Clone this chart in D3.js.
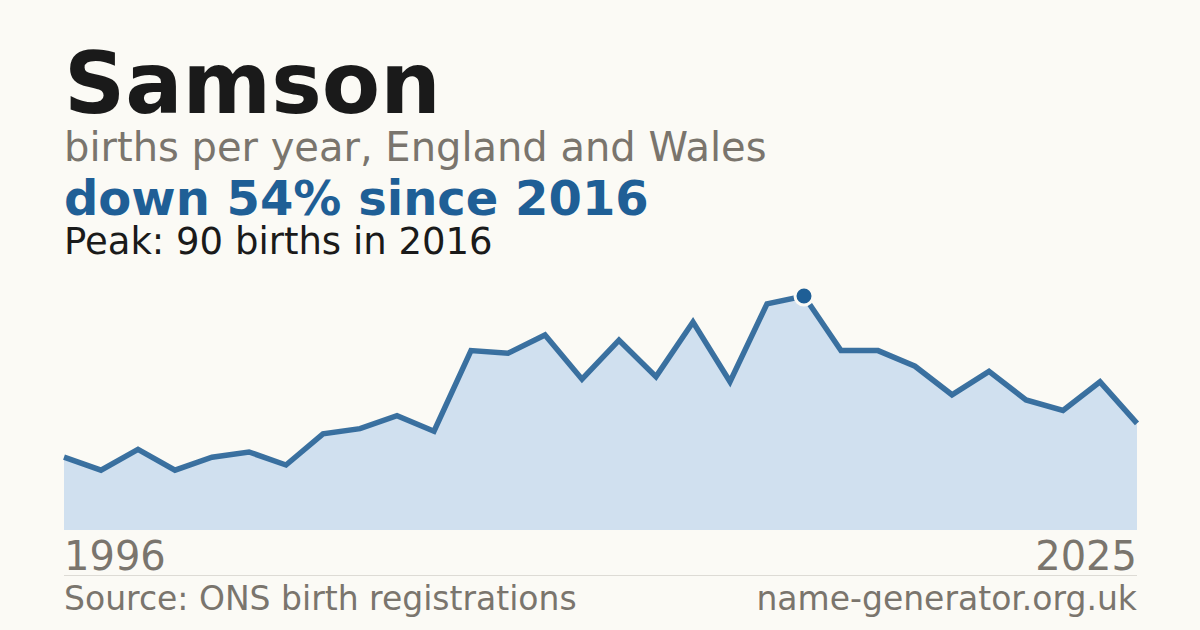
<!DOCTYPE html>
<html>
<head>
<meta charset="utf-8">
<script src="https://cdn.jsdelivr.net/npm/d3@7"></script>
<style>
  html, body { margin: 0; padding: 0; background: #fbfaf5; }
  svg { display: block; font-family: "DejaVu Sans", sans-serif; }
</style>
</head>
<body>
<div id="chart"></div>
<script>
const years = d3.range(1996, 2026)
const births = [28, 23, 31, 23, 28, 30, 25, 37, 39, 44, 38, 69, 68, 75, 58, 73, 59, 80, 57, 87,
  90, 69, 69, 63, 52, 61, 50, 46, 57, 41]
const peakYear = 2016

const width = 1200
const height = 630
const margin = {left: 64, right: 63, top: 296, bottom: 100}

const svg = d3.select("#chart")
  .append("svg")
  .attr("width", width)
  .attr("height", height)

svg.append("rect")
  .attr("width", width)
  .attr("height", height)
  .attr("fill", "#fbfaf5")

const data = years.map((year, i) => ({year, value: births[i]}))

const x = d3.scaleLinear()
  .domain(d3.extent(years))
  .range([margin.left, width - margin.right])

const y = d3.scaleLinear()
  .domain([0, d3.max(births)])
  .range([height - margin.bottom, margin.top])

svg.append("path")
  .datum(data)
  .attr("fill", "#d0e0ef")
  .attr("d", d3.area()
    .x(d => x(d.year))
    .y0(y(0))
    .y1(d => y(d.value)))

svg.append("path")
  .datum(data)
  .attr("fill", "none")
  .attr("stroke", "#2a6598")
  .attr("stroke-opacity", 0.92)
  .attr("stroke-width", 5.5)
  .attr("stroke-linejoin", "miter")
  .attr("d", d3.line()
    .x(d => x(d.year))
    .y(d => y(d.value)))

const peak = data.find(d => d.year === peakYear)
svg.append("circle")
  .attr("cx", x(peak.year))
  .attr("cy", y(peak.value))
  .attr("r", 9)
  .attr("fill", "#1f5f96")
  .attr("stroke", "#fbfaf5")
  .attr("stroke-width", 3)

// titles
svg.append("text")
  .attr("x", 64).attr("y", 113)
  .attr("fill", "#1a1a1a")
  .style("font-size", "85px")
  .style("font-weight", "bold")
  .text("Samson")

svg.append("text")
  .attr("x", 64).attr("y", 161)
  .attr("fill", "#7a756d")
  .style("font-size", "40px")
  .text("births per year, England and Wales")

const last = data[data.length - 1]
const change = Math.round((1 - last.value / peak.value) * 100)
svg.append("text")
  .attr("x", 64).attr("y", 215)
  .attr("fill", "#1f5f96")
  .style("font-size", "48px")
  .style("font-weight", "bold")
  .text(`down ${change}% since ${peakYear}`)

svg.append("text")
  .attr("x", 64).attr("y", 254)
  .attr("fill", "#1a1a1a")
  .style("font-size", "37px")
  .text(`Peak: ${peak.value} births in ${peakYear}`)

// year labels
svg.append("text")
  .attr("x", x(years[0])).attr("y", 570)
  .attr("fill", "#7a756d")
  .style("font-size", "40px")
  .text(years[0])

svg.append("text")
  .attr("x", x(years[years.length - 1])).attr("y", 570)
  .attr("text-anchor", "end")
  .attr("fill", "#7a756d")
  .style("font-size", "40px")
  .text(years[years.length - 1])

svg.append("line")
  .attr("x1", 64).attr("x2", width - margin.right)
  .attr("y1", 575.5).attr("y2", 575.5)
  .attr("stroke", "#dddbd5")
  .attr("stroke-width", 1)

svg.append("text")
  .attr("x", 64).attr("y", 610)
  .attr("fill", "#7a756d")
  .style("font-size", "33px")
  .text("Source: ONS birth registrations")

svg.append("text")
  .attr("x", width - margin.right).attr("y", 610)
  .attr("text-anchor", "end")
  .attr("fill", "#7a756d")
  .style("font-size", "33px")
  .text("name-generator.org.uk")
</script>
</body>
</html>
